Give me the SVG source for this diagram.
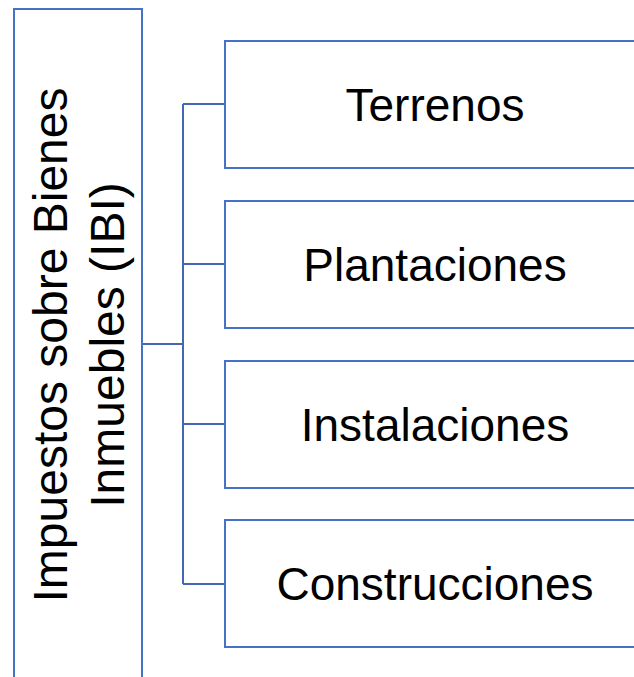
<svg xmlns="http://www.w3.org/2000/svg" width="634" height="677" viewBox="0 0 634 677">
<style>
.box{fill:#fff;stroke:#4472C4;stroke-width:2}
.conn{fill:none;stroke:#4168B0;stroke-width:2}
text{font-family:"Liberation Sans",Arial,sans-serif;font-size:46px;fill:#000}
.c{text-anchor:middle}
.v{font-size:48px}
</style>
<rect width="634" height="677" fill="#fff"/>
<g id="connectors">
<path class="conn" d="M142 344H183M183 104V584M183 104H225M183 264H225M183 424H225M183 584H225"/>
</g>
<g id="ibi">
<rect class="box" x="14" y="9" width="128" height="690"/>
<text class="c v" transform="translate(67,345) rotate(-90)">Impuestos sobre Bienes</text>
<text class="c v" transform="translate(124,345) rotate(-90)">Inmuebles (IBI)</text>
</g>
<g id="terrenos">
<rect class="box" x="225" y="41" width="420" height="127"/>
<text class="c" x="435" y="121">Terrenos</text>
</g>
<g id="plantaciones">
<rect class="box" x="225" y="201" width="420" height="127"/>
<text class="c" x="435" y="281">Plantaciones</text>
</g>
<g id="instalaciones">
<rect class="box" x="225" y="361" width="420" height="127"/>
<text class="c" x="435" y="441">Instalaciones</text>
</g>
<g id="construcciones">
<rect class="box" x="225" y="520" width="420" height="127"/>
<text class="c" x="435" y="600">Construcciones</text>
</g>
</svg>
